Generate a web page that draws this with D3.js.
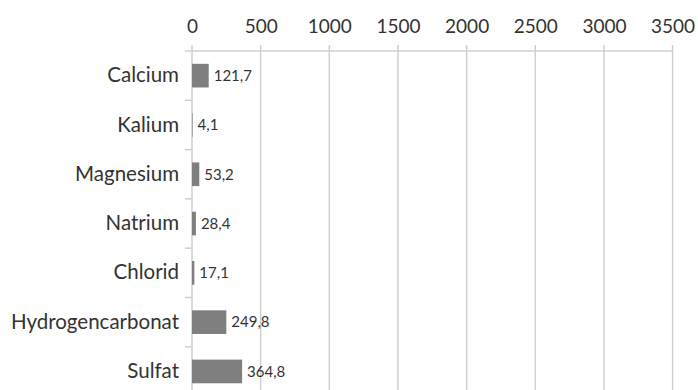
<!DOCTYPE html>
<html>
<head>
<meta charset="utf-8">
<script src="https://cdn.jsdelivr.net/npm/d3@7"></script>
<style>
  html, body { margin: 0; padding: 0; background: #fff; }
  svg { display: block; }
  text { font-family: Lato, "Open Sans", sans-serif; fill: #333; }
</style>
</head>
<body>
<svg id="chart" width="698" height="390"></svg>
<script>
// Mineral content (mg/l)
const categories = ["Calcium", "Kalium", "Magnesium", "Natrium", "Chlorid", "Hydrogencarbonat", "Sulfat"];
const values = [121.7, 4.1, 53.2, 28.4, 17.1, 249.8, 364.8];
const tickValues = [0, 500, 1000, 1500, 2000, 2500, 3000, 3500];

const width = 698, height = 390;
const margin = { top: 51, left: 192, right: 26 };
const bandStep = 49.3;
const plotH = bandStep * categories.length;

const svg = d3.select("#chart");
const g = svg.append("g").attr("transform", `translate(${margin.left},${margin.top})`);

const x = d3.scaleLinear().domain([0, 3500]).range([0, 480.6]);
const y = d3.scaleBand().domain(categories).range([0, plotH]).paddingInner(0.52).paddingOuter(0.26);
const yEdges = d3.scaleLinear().domain([0, categories.length]).range([0, plotH]);

const fmt = v => d3.format(".1f")(v).replace(".", ",");

// vertical gridlines, extending slightly above the axis line
g.append("g").selectAll("line").data(tickValues).join("line")
  .attr("x1", d => x(d)).attr("x2", d => x(d))
  .attr("y1", -6).attr("y2", plotH)
  .attr("stroke", "#d0d0d0").attr("stroke-width", 1.5);

// top axis line
g.append("line")
  .attr("x1", -7).attr("x2", x(3500))
  .attr("y1", 0).attr("y2", 0)
  .attr("stroke", "#d0d0d0").attr("stroke-width", 1.5);

// category separators on the left
g.append("g").selectAll("line").data(d3.range(1, categories.length + 1)).join("line")
  .attr("x1", -7).attr("x2", 0)
  .attr("y1", d => yEdges(d)).attr("y2", d => yEdges(d))
  .attr("stroke", "#d0d0d0").attr("stroke-width", 1.5);

// top tick labels
const xAxis = d3.axisTop(x).tickValues(tickValues).tickSize(0).tickPadding(18).tickFormat(d3.format("d"));
const ax = g.append("g").call(xAxis);
ax.select(".domain").remove();
ax.selectAll("text").style("font-size", "19px").attr("fill", "#333");

// category labels
const yAxis = d3.axisLeft(y).tickSize(0).tickPadding(13);
const ay = g.append("g").call(yAxis);
ay.select(".domain").remove();
ay.selectAll("text").style("font-size", "20.5px").attr("fill", "#333");

// bars
g.append("g").selectAll("rect").data(values).join("rect")
  .attr("x", 0)
  .attr("y", (d, i) => y(categories[i]))
  .attr("width", d => x(d))
  .attr("height", y.bandwidth())
  .attr("fill", "#7f7f7f");

// value labels
g.append("g").selectAll("text").data(values).join("text")
  .attr("x", d => x(d) + 5)
  .attr("y", (d, i) => y(categories[i]) + y.bandwidth() / 2)
  .attr("dy", "0.35em")
  .style("font-size", "15px")
  .text(d => fmt(d));
</script>
</body>
</html>
